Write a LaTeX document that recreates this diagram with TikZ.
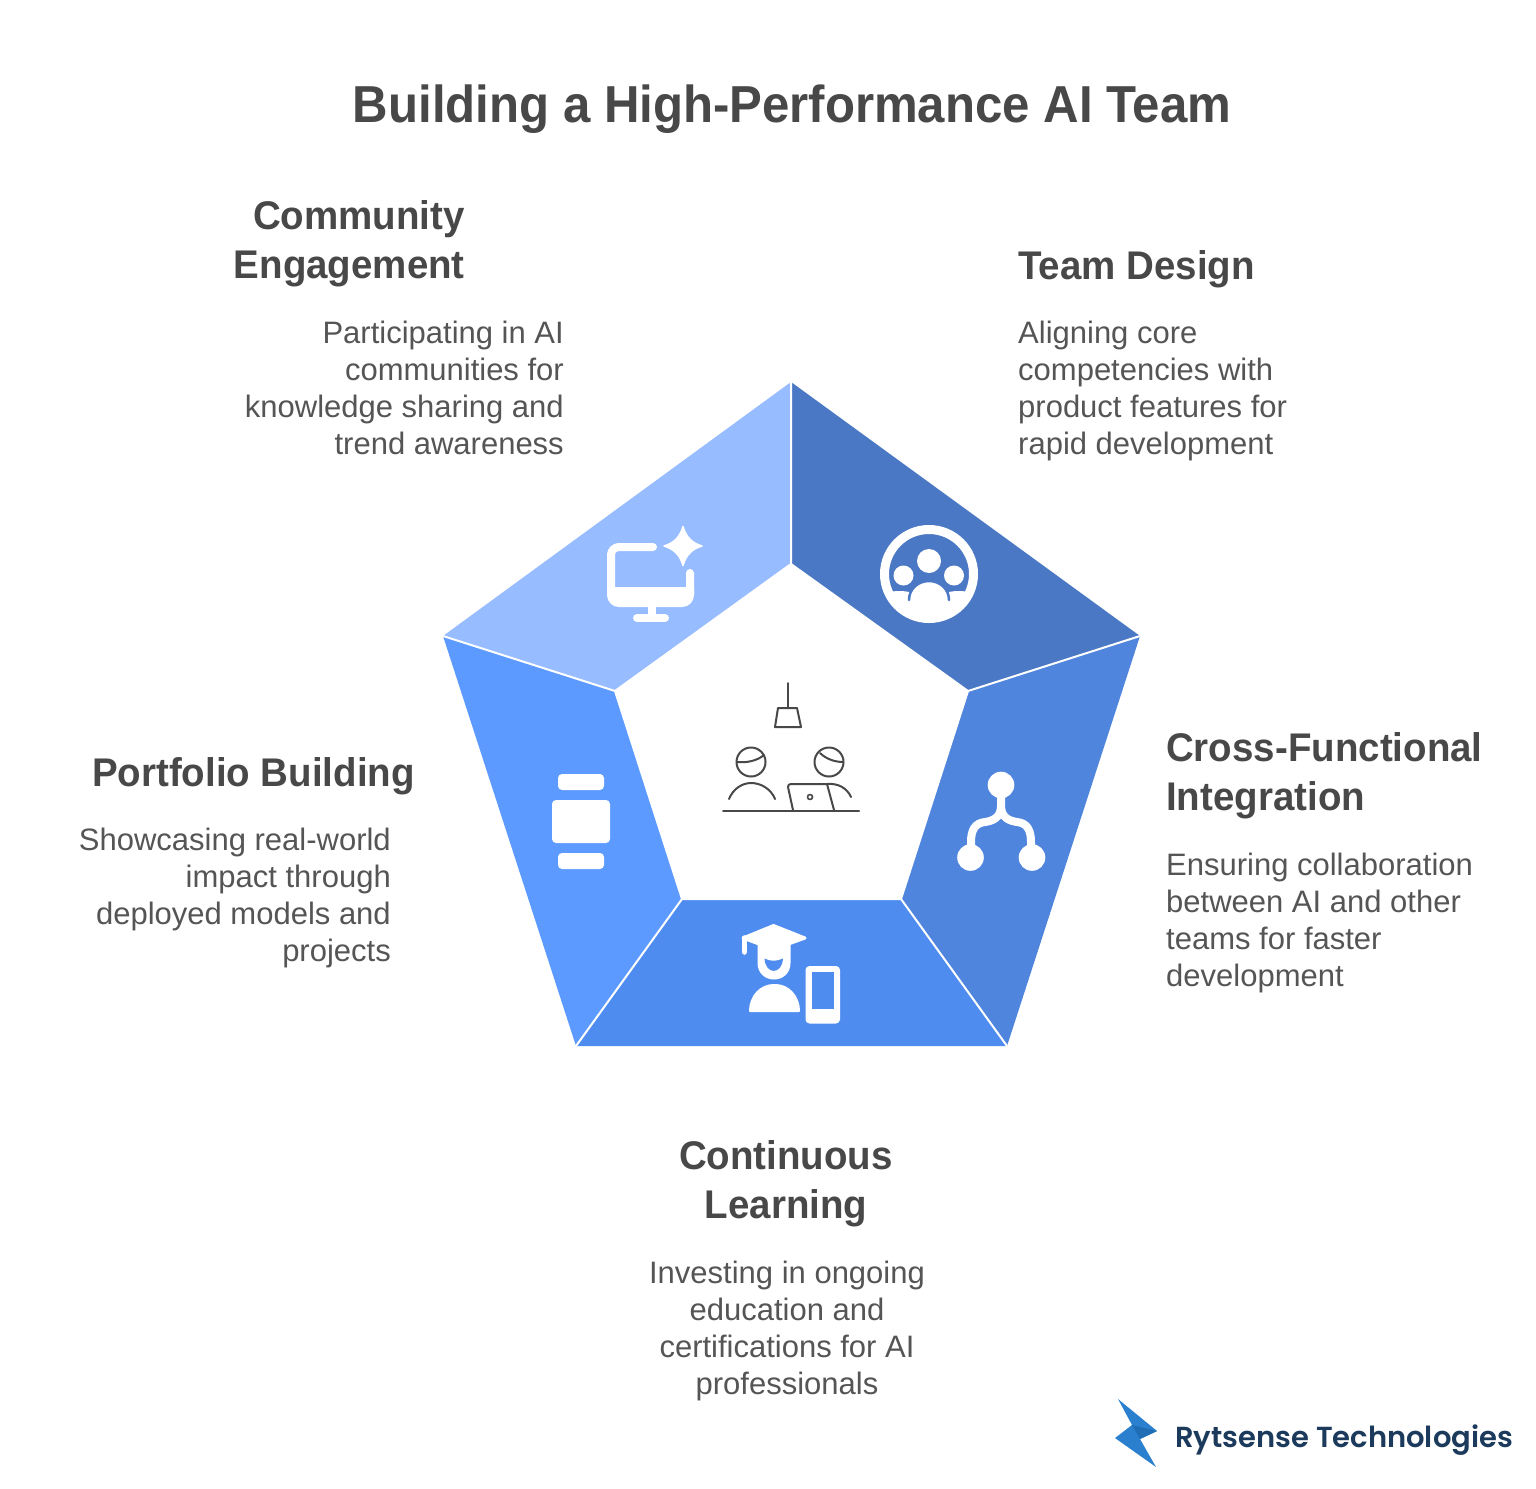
\documentclass[tikz,border=0pt]{standalone}
\usepackage{fontspec}
\setmainfont{Liberation Sans}
\newfontfamily\titlefont[FakeStretch=0.945]{Liberation Sans}
\newfontfamily\headfont[FakeStretch=0.962]{Liberation Sans}
\newfontfamily\logofont{Poppins SemiBold}
\definecolor{tone}{HTML}{4A78C4}
\definecolor{ttwo}{HTML}{5085DE}
\definecolor{tthree}{HTML}{4F8CEF}
\definecolor{tfour}{HTML}{5C9AFF}
\definecolor{tfive}{HTML}{97BCFF}
\definecolor{headc}{HTML}{484848}
\definecolor{bodyc}{HTML}{555555}
\definecolor{logoc}{HTML}{1B3A5C}
\definecolor{logoa}{HTML}{2A80CF}
\definecolor{logob}{HTML}{1F6DB5}
\tikzset{
 x=1pt,y=-1pt,
 titletxt/.style={inner sep=0,text=headc,font=\titlefont\fontsize{52}{60}\selectfont\bfseries},
 headtxt/.style={inner sep=0,text=headc,font=\headfont\fontsize{40}{49.5}\selectfont\bfseries},
 bodytxt/.style={inner sep=0,text=bodyc,font=\fontsize{31}{37}\selectfont},
 wline/.style={draw=white,line width=8pt,line cap=round,line join=round},
 gline/.style={draw=headc,line width=2pt,line cap=round,line join=round},
}
\newcommand{\hs}{\rule{0pt}{30pt}}
\newcommand{\bs}{\rule{0pt}{23pt}}
\begin{document}
\begin{tikzpicture}
\useasboundingbox (0,0) rectangle (1536,1488);
\fill[white] (0,0) rectangle (1536,1488);
% pentagon points
\coordinate (ot) at (791,382);
\coordinate (or) at (1140,636);
\coordinate (ob) at (1007,1046);
\coordinate (oa) at (576,1046);
\coordinate (ol) at (443,636);
\coordinate (it) at (791,564);
\coordinate (ir) at (968,691);
\coordinate (ib) at (901,899);
\coordinate (ia) at (682,899);
\coordinate (il) at (615,691);
\path[fill=tone] (ot) -- (or) -- (ir) -- (it) -- cycle;
\path[fill=ttwo] (or) -- (ob) -- (ib) -- (ir) -- cycle;
\path[fill=tthree] (ob) -- (oa) -- (ia) -- (ib) -- cycle;
\path[fill=tfour] (oa) -- (ol) -- (il) -- (ia) -- cycle;
\path[fill=tfive] (ol) -- (ot) -- (it) -- (il) -- cycle;
\draw[white,line width=2pt] (ot)--(it) (or)--(ir) (ob)--(ib) (oa)--(ia) (ol)--(il) (it)--(ir)--(ib)--(ia)--(il)--cycle;
% texts
\node[titletxt,anchor=base] (title) at (792,122) {Building a High-Performance AI Team};
\node[headtxt,anchor=north east,align=right] (h5) at (465,199) {\hs Community\\Engagement};
\node[bodytxt,anchor=north east,align=right] (b5) at (564,320) {\bs Participating in AI\\communities for\\knowledge sharing and\\trend awareness};
\node[headtxt,anchor=north west,align=left] (h1) at (1018,249) {\hs Team Design};
\node[bodytxt,anchor=north west,align=left] (b1) at (1018,320) {\bs Aligning core\\competencies with\\product features for\\rapid development};
\node[headtxt,anchor=north west,align=left] (h2) at (1166,731) {\hs Cross-Functional\\Integration};
\node[bodytxt,anchor=north west,align=left] (b2) at (1166,852) {\bs Ensuring collaboration\\between AI and other\\teams for faster\\development};
\node[headtxt,anchor=north east,align=right] (h4) at (415,756) {\hs Portfolio Building};
\node[bodytxt,anchor=north east,align=right] (b4) at (391,827) {\bs Showcasing real-world\\impact through\\deployed models and\\projects};
\node[headtxt,anchor=north,align=center] (h3) at (786,1139) {\hs Continuous\\Learning};
\node[bodytxt,anchor=north,align=center] (b3) at (787,1260) {\bs Investing in ongoing\\education and\\certifications for AI\\professionals};
% computer icon
\draw[wline] (653,547) -- (619,547) to[out=180,in=90] (611,555) -- (611,595) (690,595) -- (690,573);
\fill[white] (607,587) -- (694,587) -- (694,595) to[out=-90,in=0] (682,607) -- (619,607) to[out=180,in=-90] (607,595) -- cycle;
\draw[wline] (652,607) -- (652,618) (637,618) -- (665,618);
\fill[white,draw=white,line width=1.5pt,line join=round] (683,526.5) .. controls (686,537) and (692,543) .. (702,546) .. controls (692,549) and (686,555) .. (683,565.5) .. controls (680,555) and (674,549) .. (664,546) .. controls (674,543) and (680,537) .. (683,526.5) -- cycle;
% team icon
\draw[white,line width=9pt] (929,574) circle (44.5);
\begin{scope}
\clip (929,574) circle (41);
\fill[white] (880,595) .. controls (890,591) and (900,590) .. (909,592) -- (949,592) .. controls (958,590) and (968,591) .. (978,595) -- (978,630) -- (880,630) -- cycle;
\fill[white] (909,600) .. controls (909,589) and (918,581) .. (929,581) .. controls (940,581) and (949,589) .. (949,600) -- (949,630) -- (909,630) -- cycle;
\draw[tone,line width=2.5pt,line cap=round] (909,600) .. controls (909,589) and (918,581) .. (929,581) .. controls (940,581) and (949,589) .. (949,600);
\end{scope}
\fill[white] (929,561) circle (12) (903.5,575.5) circle (10) (954,575.5) circle (10);
% branch icon
\draw[wline] (1001,785) -- (1001,806) .. controls (1001,818) and (992,821) .. (985,822) .. controls (975,823) and (971,830) .. (971,842) -- (971,857);
\draw[wline] (1001,806) .. controls (1001,818) and (1010,821) .. (1017,822) .. controls (1027,823) and (1031,830) .. (1031,842) -- (1031,857);
\fill[white] (1001,785) circle (13.3) (970.5,857.5) circle (13.3) (1032,857.5) circle (13.3);
% portfolio icon
\fill[white,rounded corners=4pt] (558,774) rectangle (604,790);
\fill[white,rounded corners=4pt] (552,800) rectangle (610,843);
\fill[white,rounded corners=4pt] (558,853) rectangle (604,869);
% learning icon
\fill[white,line join=round,draw=white,line width=3pt] (743,938) -- (773.5,925.5) -- (805,938) -- (773.5,949.5) -- cycle;
\draw[white,line width=5.5pt,line cap=round] (744.5,938) -- (744.5,952);
\fill[white] (757.5,945) -- (790.5,945) -- (790.5,963) .. controls (790.5,973) and (783,979.5) .. (774,979.5) .. controls (765,979.5) and (757.5,973) .. (757.5,963) -- cycle;
\fill[tthree] (764.5,958.5) .. controls (770,961.5) and (777,961.5) .. (783,958.5) .. controls (782,975) and (765.5,975) .. (764.5,958.5) -- cycle;
\fill[white,rounded corners=1pt] (749,1012) .. controls (749,996) and (760,984) .. (774.5,984) .. controls (789,984) and (800,996) .. (800,1012) -- cycle;
\fill[white,rounded corners=4pt] (805.5,966) rectangle (840,1023.5);
\fill[tthree] (811.5,972) rectangle (834,1008.5);
% centre icon
\draw[gline] (788,683) -- (788,707);
\draw[gline] (778,708) -- (797,708) -- (801,727) -- (775,727) -- cycle;
\draw[gline] (751,762) circle (14.5) (829,762) circle (14.5);
\draw[gline] (737,762) .. controls (746,763) and (757,761) .. (764,755);
\draw[gline] (820,753) .. controls (826,759) and (835,762) .. (843,762);
\draw[gline] (729,799) .. controls (733,789) and (742,783) .. (751,783) .. controls (761,783) and (771,789) .. (775,799);
\draw[gline] (723,811) -- (859,811);
\draw[gline] (793,810) -- (788,787) .. controls (788,785) and (789,784) .. (791,784) -- (827,784) -- (834,810);
\draw[gline] (827,784) .. controls (838,783) and (847,788) .. (851,797);
\draw[gline,line width=1.6pt] (810,797) circle (2.5);
% logo
\fill[logoa] (1118,1399) -- (1157,1431) -- (1140,1439) -- (1156,1467) -- (1115,1438) -- (1132,1425) -- cycle;
\fill[logob] (1132,1425) -- (1157,1431) -- (1140,1439) -- cycle;
\node[inner sep=0,anchor=base west,text=logoc,font=\logofont\fontsize{29}{34}\selectfont] (logo) at (1175,1447) {Rytsense Technologies};
\end{tikzpicture}
\end{document}
